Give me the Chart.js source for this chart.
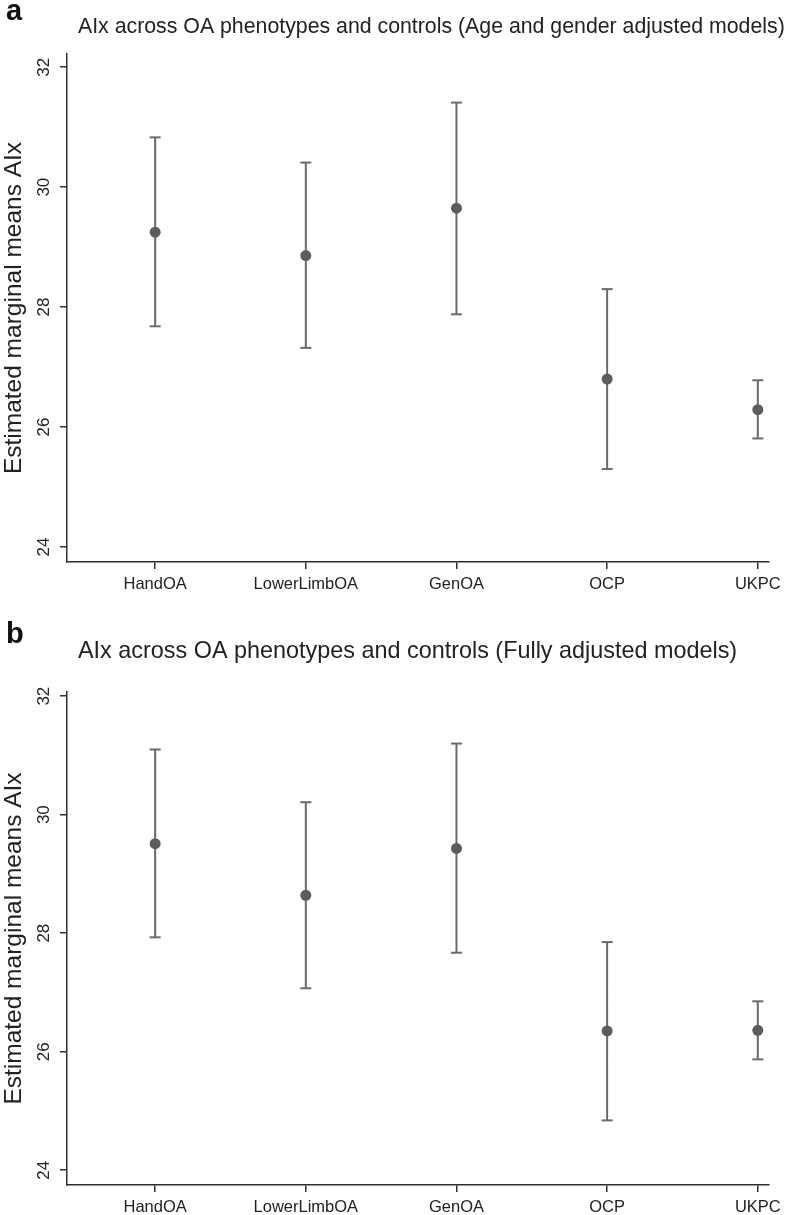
<!DOCTYPE html>
<html>
<head>
<meta charset="utf-8">
<script src="https://cdn.jsdelivr.net/npm/chart.js@4.4.1/dist/chart.umd.min.js"></script>
<style>
  html, body { margin: 0; padding: 0; background: #fff; }
  canvas { display: block; }
</style>
</head>
<body>
<canvas id="chart-a" width="787" height="600"></canvas>
<canvas id="chart-b" width="787" height="615"></canvas>
<script>
// ---- DATA ----
const CATEGORIES = ['HandOA', 'LowerLimbOA', 'GenOA', 'OCP', 'UKPC'];
const Y_TICKS = [24, 26, 28, 30, 32];

// panel a: age and gender adjusted models
const MEAN_A  = [29.25, 28.86, 29.65, 26.80, 26.29];
const LOWER_A = [27.68, 27.32, 27.88, 25.30, 25.81];
const UPPER_A = [30.83, 30.41, 31.41, 28.30, 26.78];

// panel b: fully adjusted models
const MEAN_B  = [29.51, 28.64, 29.43, 26.35, 26.36];
const LOWER_B = [27.93, 27.07, 27.67, 24.84, 25.87];
const UPPER_B = [31.10, 30.21, 31.20, 27.85, 26.85];

// ---- STYLE ----
const SANS = "'Liberation Sans', Arial, sans-serif";
const AXIS_COLOR = '#2e2e2e';
const BAR_COLOR = '#6a6a6a';
const DOT_COLOR = '#5c5c5c';

// panel letter + title, drawn in the top padding
const headerPlugin = {
  id: 'header',
  afterDraw(chart) {
    const h = chart.options.plugins.header;
    const c = chart.ctx;
    c.save();
    c.fillStyle = '#111';
    c.textBaseline = 'alphabetic';
    c.textAlign = 'left';
    c.font = 'bold 29px ' + SANS;
    c.fillText(h.letter, 6, h.letterY);
    c.fillStyle = '#222';
    c.font = h.titleSize + 'px ' + SANS;
    c.fillText(h.title, 78, h.titleY);
    c.restore();
  },
};

function makeChart(id, cfg) {
  // error bars: low/high pair per category, null breaks the line
  const bars = [];
  cfg.mean.forEach((m, i) => {
    bars.push({ x: i + 1, y: cfg.lower[i] }, { x: i + 1, y: cfg.upper[i] }, { x: i + 1, y: null });
  });
  const dots = cfg.mean.map((m, i) => ({ x: i + 1, y: m }));

  return new Chart(document.getElementById(id), {
    type: 'scatter',
    data: {
      datasets: [
        {
          label: 'Mean',
          data: dots,
          pointStyle: 'circle',
          pointRadius: 5.5,
          pointBackgroundColor: DOT_COLOR,
          pointBorderWidth: 0,
        },
        {
          label: '95% CI',
          data: bars,
          showLine: true,
          spanGaps: false,
          borderColor: BAR_COLOR,
          borderWidth: 2,
          pointStyle: 'line',
          pointRadius: 5.5,
          pointBorderColor: BAR_COLOR,
          pointBorderWidth: 2,
        },
      ],
    },
    options: {
      responsive: false,
      animation: false,
      events: [],
      layout: { padding: { top: cfg.padTop, right: 17, left: 0, bottom: 0 } },
      plugins: {
        legend: { display: false },
        tooltip: { enabled: false },
        header: {
          letter: cfg.letter, letterY: cfg.letterY,
          title: cfg.title, titleY: cfg.titleY, titleSize: cfg.titleSize,
        },
      },
      scales: {
        x: {
          type: 'linear',
          min: 0.415,
          max: 5.075,
          afterBuildTicks(s) { s.ticks = CATEGORIES.map((c, i) => ({ value: i + 1 })); },
          afterFit(s) { s.height = cfg.xAxisH; },
          ticks: {
            autoSkip: false,
            maxRotation: 0,
            padding: 6,
            color: '#222',
            font: { family: SANS, size: 16.5 },
            callback: v => CATEGORIES[v - 1] || '',
          },
          grid: { drawOnChartArea: false, drawTicks: true, tickLength: 7, color: AXIS_COLOR, lineWidth: 1.5 },
          border: { display: true, color: AXIS_COLOR, width: 1.5 },
        },
        y: {
          min: 23.75,
          max: cfg.yMax,
          afterBuildTicks(s) { s.ticks = Y_TICKS.map(v => ({ value: v })); },
          afterFit(s) { s.width = 67; },
          ticks: {
            minRotation: 90,
            maxRotation: 90,
            crossAlign: 'center',
            padding: 6,
            color: '#222',
            font: { family: SANS, size: 17 },
          },
          grid: { drawOnChartArea: false, drawTicks: true, tickLength: 7, color: AXIS_COLOR, lineWidth: 1.5 },
          border: { display: true, color: AXIS_COLOR, width: 1.5 },
          title: {
            display: true,
            text: 'Estimated marginal means AIx',
            color: '#222',
            font: { family: SANS, size: 24.5 },
            padding: { top: 0, bottom: 0 },
          },
        },
      },
    },
    plugins: [headerPlugin],
  });
}

makeChart('chart-a', {
  letter: 'a', letterY: 20,
  title: 'AIx across OA phenotypes and controls (Age and gender adjusted models)',
  titleY: 33, titleSize: 21.3,
  mean: MEAN_A, lower: LOWER_A, upper: UPPER_A,
  padTop: 54, xAxisH: 38, yMax: 32.22,
});

makeChart('chart-b', {
  letter: 'b', letterY: 43,
  title: 'AIx across OA phenotypes and controls (Fully adjusted models)',
  titleY: 58, titleSize: 23.4,
  mean: MEAN_B, lower: LOWER_B, upper: UPPER_B,
  padTop: 92, xAxisH: 30, yMax: 32.07,
});
</script>
</body>
</html>
